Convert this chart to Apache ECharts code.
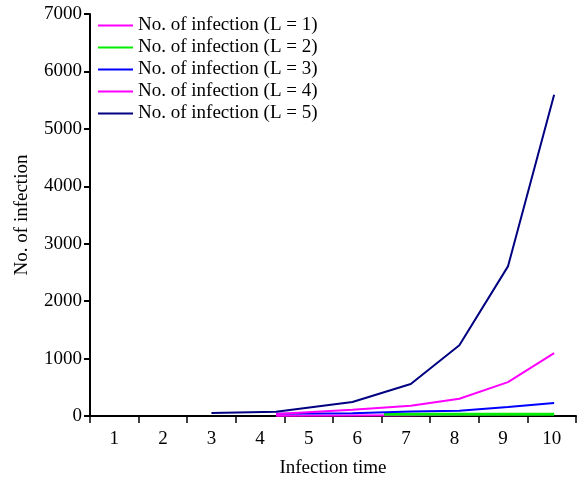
<!DOCTYPE html>
<html>
<head>
<meta charset="utf-8">
<script src="https://cdn.jsdelivr.net/npm/echarts@6/dist/echarts.min.js"></script>
<style>
  html, body { margin: 0; padding: 0; background: #fff; }
  #chart { width: 578px; height: 483px; }
</style>
</head>
<body>
<div id="chart"></div>
<script>
// tick labels on the x axis (infection time)
const timeLabels = ['1', '2', '3', '4', '5', '6', '7', '8', '9', '10'];

// x positions of the points (in infection-time units)
const xL1 = [4.33, 5.9, 7.1, 8.1, 9.1, 10.05];
const xL2 = [6.55, 7.1, 8.1, 9.1, 10.05];
const xL3 = [4.33, 5.9, 7.1, 8.1, 9.1, 10.05];
const xL4 = [4.33, 5.9, 7.1, 8.1, 9.1, 10.05];
const xL5 = [3, 4.33, 5.9, 7.1, 8.1, 9.1, 10.05];

// number of infections per series
const yL1 = [5, 10, 15, 20, 25, 30];
const yL2 = [30, 30, 30, 30, 30];
const yL3 = [40, 50, 78, 92, 155, 225];
const yL4 = [35, 110, 180, 300, 590, 1095];
const yL5 = [52, 75, 243, 556, 1233, 2605, 5593];

const seriesNames = [
    'No. of infection (L = 1)',
    'No. of infection (L = 2)',
    'No. of infection (L = 3)',
    'No. of infection (L = 4)',
    'No. of infection (L = 5)'
];

// pair up x and y values for the value axis
function pairs(xs, ys) {
    return xs.map((x, i) => [x, ys[i]]);
}

const chart = echarts.init(document.getElementById('chart'));

const font = 'Liberation Serif';

const options = {
    animation: false,
    textStyle: { fontFamily: font },
    grid: { left: 90, right: 2, top: 14, bottom: 66, containLabel: false },
    legend: {
        orient: 'vertical',
        left: 93,
        top: 11,
        icon: 'rect',
        itemWidth: 35,
        itemHeight: 2,
        itemGap: 3,
        textStyle: { fontFamily: font, fontSize: 19, color: '#000' },
        data: seriesNames
    },
    xAxis: [
        {
            type: 'category',
            data: timeLabels,
            boundaryGap: true,
            name: 'Infection time',
            nameLocation: 'middle',
            nameGap: 43,
            nameTextStyle: { fontFamily: font, fontSize: 19, color: '#000' },
            axisLine: { lineStyle: { color: '#000', width: 2 } },
            axisTick: { show: true, length: 7, lineStyle: { color: '#000', width: 1.5 } },
            axisLabel: { fontFamily: font, fontSize: 19, color: '#000', margin: 14 },
            splitLine: { show: false }
        },
        {
            type: 'value',
            min: 0.5,
            max: 10.5,
            show: false
        }
    ],
    yAxis: {
        type: 'value',
        min: 0,
        max: 7000,
        interval: 1000,
        name: 'No. of infection',
        nameLocation: 'middle',
        nameGap: 58,
        nameTextStyle: { fontFamily: font, fontSize: 19, color: '#000' },
        axisLine: { show: true, lineStyle: { color: '#000', width: 2 } },
        axisTick: { show: true, length: 6, lineStyle: { color: '#000', width: 2 } },
        axisLabel: { fontFamily: font, fontSize: 19, color: '#000', margin: 8, formatter: v => String(v) },
        splitLine: { show: false }
    },
    series: [
        {
            name: seriesNames[0], type: 'line', xAxisIndex: 1, symbol: 'none',
            lineStyle: { color: '#ff00ff', width: 2 }, itemStyle: { color: '#ff00ff' },
            data: pairs(xL1, yL1)
        },
        {
            name: seriesNames[1], type: 'line', xAxisIndex: 1, symbol: 'none',
            lineStyle: { color: '#00ee00', width: 3 }, itemStyle: { color: '#00ee00' },
            data: pairs(xL2, yL2)
        },
        {
            name: seriesNames[2], type: 'line', xAxisIndex: 1, symbol: 'none',
            lineStyle: { color: '#0000ff', width: 2 }, itemStyle: { color: '#0000ff' },
            data: pairs(xL3, yL3)
        },
        {
            name: seriesNames[3], type: 'line', xAxisIndex: 1, symbol: 'none',
            lineStyle: { color: '#ff00ff', width: 2 }, itemStyle: { color: '#ff00ff' },
            data: pairs(xL4, yL4)
        },
        {
            name: seriesNames[4], type: 'line', xAxisIndex: 1, symbol: 'none',
            lineStyle: { color: '#000080', width: 2 }, itemStyle: { color: '#000080' },
            data: pairs(xL5, yL5)
        }
    ]
};

chart.setOption(options);
</script>
</body>
</html>
